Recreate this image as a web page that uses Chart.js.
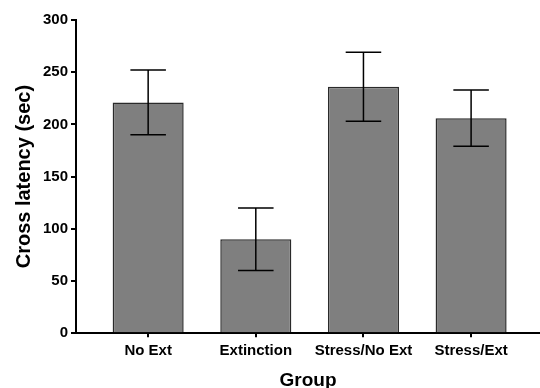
<!DOCTYPE html>
<html>
<head>
<meta charset="utf-8">
<script src="https://cdn.jsdelivr.net/npm/chart.js@4"></script>
<style>
  html, body { margin: 0; padding: 0; background: #fff; }
  #wrap { width: 540px; height: 388px; }
</style>
</head>
<body>
<div id="wrap"><canvas id="myChart" width="540" height="388"></canvas></div>
<script>
// Data
const groups = ["No Ext", "Extinction", "Stress/No Ext", "Stress/Ext"];
const latency = [221, 90, 236, 206];
const sem = [31, 30, 33, 27];
const yTicks = [0, 50, 100, 150, 200, 250, 300];

const FONT = "'Liberation Sans', Arial, sans-serif";

// Draws the error bars using the chart's own scales
const errorBars = {
  id: "errorBars",
  afterDatasetsDraw(chart) {
    const { ctx, scales } = chart;
    const meta = chart.getDatasetMeta(0);
    ctx.save();
    ctx.strokeStyle = "#000";
    ctx.lineWidth = 1.5;
    meta.data.forEach((bar, i) => {
      const x = bar.x;
      const hi = scales.y.getPixelForValue(latency[i] + sem[i]);
      const lo = scales.y.getPixelForValue(latency[i] - sem[i]);
      const cap = bar.width * 0.25;
      ctx.beginPath();
      ctx.moveTo(x, hi); ctx.lineTo(x, lo);
      ctx.moveTo(x - cap, hi); ctx.lineTo(x + cap, hi);
      ctx.moveTo(x - cap, lo); ctx.lineTo(x + cap, lo);
      ctx.stroke();
    });
    ctx.restore();
  }
};

const ctx = document.getElementById("myChart");

new Chart(ctx, {
  type: "bar",
  data: {
    datasets: [
      {
        data: latency.map((v, i) => ({ x: i, y: v })),
        backgroundColor: "#7f7f7f",
        borderColor: "#2a2a2a",
        borderWidth: 1.5,
        borderSkipped: "bottom",
        barPercentage: 1,
        categoryPercentage: 0.66,
      },
    ],
  },
  options: {
    responsive: false,
    animation: false,
    layout: { padding: { top: 20, right: 0, left: 12, bottom: -4 } },
    plugins: {
      legend: { display: false },
      tooltip: { enabled: false },
    },
    scales: {
      x: {
        type: "linear",
        offset: false,
        min: -0.67,
        max: 3.64,
        afterBuildTicks: (axis) => {
          axis.ticks = groups.map((g, i) => ({ value: i }));
        },
        ticks: {
          color: "#000",
          font: { family: FONT, size: 15, weight: "bold" },
          padding: 5,
          maxRotation: 0,
          autoSkip: false,
          callback: (v) => groups[v],
        },
        grid: {
          display: true,
          offset: false,
          drawOnChartArea: false,
          drawTicks: true,
          tickLength: 4,
          tickColor: "#000",
          tickWidth: 2,
          color: "#000",
          lineWidth: 2,
        },
        border: { display: true, color: "#000", width: 2 },
        title: {
          display: true,
          text: "Group",
          color: "#000",
          font: { family: FONT, size: 19, weight: "bold" },
          padding: { top: 4, bottom: 0 },
        },
      },
      y: {
        min: 0,
        max: 300,
        afterBuildTicks: (axis) => {
          axis.ticks = yTicks.map((v) => ({ value: v }));
        },
        ticks: {
          color: "#000",
          font: { family: FONT, size: 15, weight: "bold" },
          padding: 3,
        },
        grid: {
          display: true,
          drawOnChartArea: false,
          drawTicks: true,
          tickLength: 5,
          color: "#000",
          lineWidth: 2,
        },
        border: { display: true, color: "#000", width: 2 },
        title: {
          display: true,
          text: "Cross latency (sec)",
          color: "#000",
          font: { family: FONT, size: 20, weight: "bold" },
          padding: { top: 0, bottom: 4 },
        },
      },
    },
  },
  plugins: [errorBars],
});
</script>
</body>
</html>
